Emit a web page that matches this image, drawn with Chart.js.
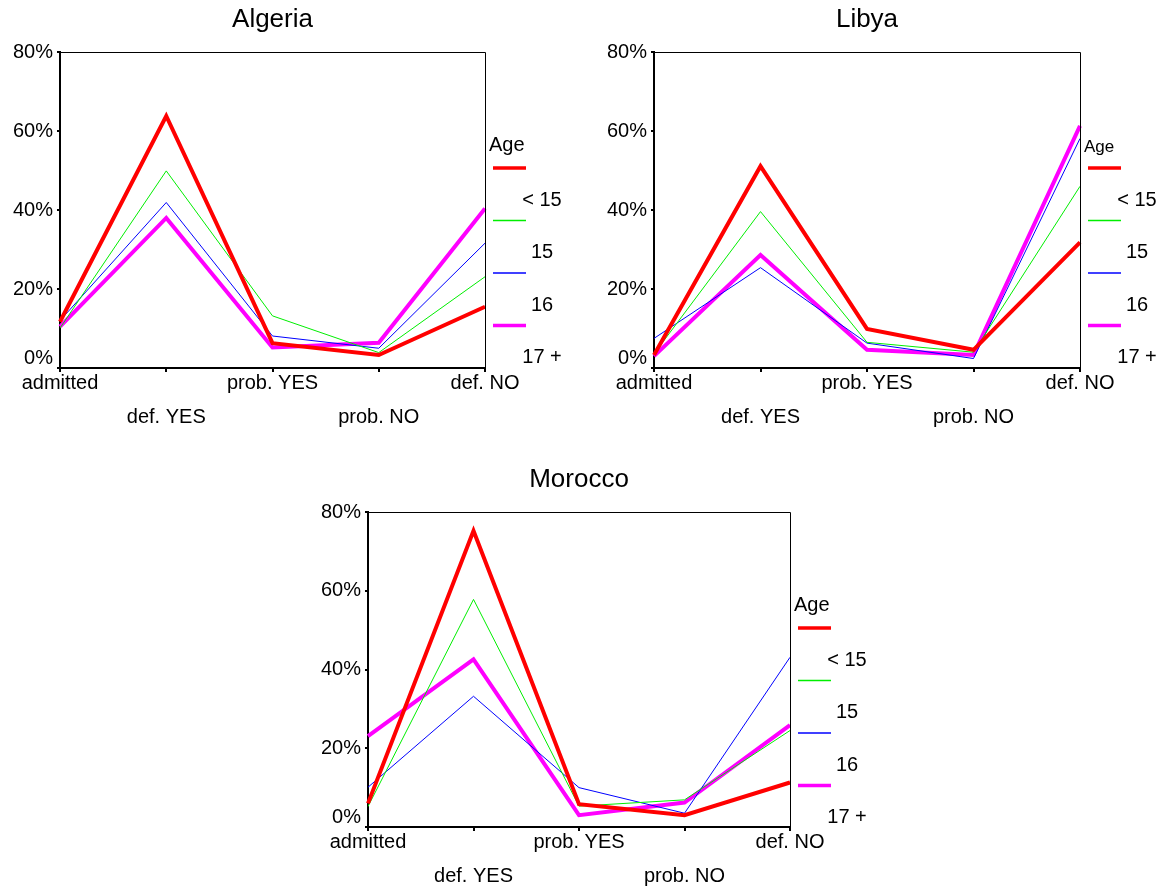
<!DOCTYPE html>
<html>
<head>
<meta charset="utf-8">
<title>Age by answer</title>
<script src="https://cdn.jsdelivr.net/npm/chart.js@4.4.1/dist/chart.umd.min.js"></script>
<style>
  body { margin: 0; background: #fff; width: 1164px; height: 888px; position: relative; overflow: hidden; }
  canvas { position: absolute; }
</style>
</head>
<body>
<canvas id="algeria" width="580" height="440" style="left:0px;top:0px"></canvas>
<canvas id="libya" width="570" height="440" style="left:594px;top:0px"></canvas>
<canvas id="morocco" width="580" height="428" style="left:308px;top:460px"></canvas>
<script>
const FONT = '"Liberation Sans", Arial, sans-serif';

const categories = ['admitted', 'def. YES', 'prob. YES', 'prob. NO', 'def. NO'];
const ageGroups = ['< 15', '15', '16', '17 +'];
const yTicks = [0, 20, 40, 60, 80];

// percent of each age group giving each answer
const algeriaUnder15 = [11.7, 63.8, 6.3, 3.3, 15.5];
const algeria15 = [10.1, 49.9, 13.2, 3.9, 23.1];
const algeria16 = [12.0, 41.9, 8.1, 5.0, 31.6];
const algeria17 = [10.5, 38.0, 5.2, 6.4, 40.4];

const libyaUnder15 = [3.3, 51.1, 9.9, 4.6, 31.8];
const libya15 = [3.6, 39.6, 6.5, 4.0, 46.0];
const libya16 = [7.5, 25.4, 6.3, 2.4, 58.1];
const libya17 = [3.0, 28.6, 4.6, 3.3, 61.3];

const moroccoUnder15 = [6.0, 75.2, 5.8, 3.0, 11.3];
const morocco15 = [5.2, 57.8, 5.3, 6.9, 24.5];
const morocco16 = [10.1, 33.2, 10.0, 3.5, 43.1];
const morocco17 = [23.1, 42.6, 3.0, 6.2, 25.9];

const COLORS = ['#ff0000', '#00ee00', '#0000ff', '#ff00ff'];
const WIDTHS = [4, 1, 1, 4];

Chart.defaults.font.family = FONT;
Chart.defaults.color = '#000';

// frame, title and the "Age" legend
const frameLegend = {
    id: 'frameLegend',
    afterDraw(chart, args, opts) {
        const ctx = chart.ctx;
        const a = chart.chartArea;
        ctx.save();
        ctx.strokeStyle = '#000';
        ctx.lineWidth = 1;
        ctx.beginPath();
        ctx.moveTo(a.left, a.top + 0.5);
        ctx.lineTo(a.right + 0.5, a.top + 0.5);
        ctx.lineTo(a.right + 0.5, a.bottom);
        ctx.stroke();

        ctx.fillStyle = '#000';
        ctx.textBaseline = 'middle';
        ctx.textAlign = 'center';
        ctx.font = '26px ' + FONT;
        ctx.fillText(opts.title, (a.left + a.right) / 2, a.top - 32);

        ctx.textAlign = 'left';
        ctx.font = opts.ageSize + 'px ' + FONT;
        ctx.fillText('Age', a.right + 4, a.top + opts.ageOffset);

        chart.data.datasets.forEach((ds, i) => {
            const sy = a.top + 116 + i * 52.5;
            ctx.strokeStyle = ds.borderColor;
            ctx.lineWidth = ds.borderWidth > 2 ? 3.5 : 1.5;
            ctx.beginPath();
            ctx.moveTo(a.right + 8, sy);
            ctx.lineTo(a.right + 41, sy);
            ctx.stroke();
            ctx.textAlign = 'center';
            ctx.font = '20px ' + FONT;
            ctx.fillText(ds.label, a.right + 57, sy + 32);
        });
        ctx.restore();
    }
};

function makeChart(id, title, series, rightPad, xHeight, ageSize, ageOffset) {
    const ctx = document.getElementById(id).getContext('2d');
    return new Chart(ctx, {
        type: 'line',
        data: {
            labels: categories,
            datasets: series.map((values, i) => ({
                label: ageGroups[i],
                data: values,
                borderColor: COLORS[i],
                borderWidth: WIDTHS[i],
                pointRadius: 0,
                tension: 0,
                fill: false
            }))
        },
        options: {
            responsive: false,
            animation: false,
            layout: { padding: { top: 52, left: 0, right: rightPad, bottom: 0 } },
            plugins: {
                legend: { display: false },
                tooltip: { enabled: false },
                frameLegend: { title: title, ageSize: ageSize, ageOffset: ageOffset }
            },
            scales: {
                x: {
                    type: 'category',
                    offset: false,
                    afterFit: scale => { scale.height = xHeight; },
                    grid: { drawOnChartArea: false, drawTicks: true, tickLength: 4, color: '#000', lineWidth: 2 },
                    border: { display: true, color: '#000', width: 2 },
                    ticks: {
                        autoSkip: false,
                        maxRotation: 0,
                        minRotation: 0,
                        padding: -6,
                        color: '#000',
                        font: { size: 20, lineHeight: '34px' },
                        callback: function (value, index) {
                            const label = this.getLabelForValue(value);
                            return index % 2 ? ['', label] : label;
                        }
                    }
                },
                y: {
                    min: yTicks[0],
                    max: yTicks[yTicks.length - 1],
                    afterFit: scale => { scale.width = 60; },
                    grid: { drawOnChartArea: false, drawTicks: true, tickLength: 3, color: '#000', lineWidth: 2 },
                    border: { display: true, color: '#000', width: 2 },
                    ticks: {
                        stepSize: 20,
                        padding: 4,
                        color: '#000',
                        font: { size: 20, lineHeight: 1 },
                        callback: v => v === 0 ? ['0%', ''] : v + '%'
                    }
                }
            }
        },
        plugins: [frameLegend]
    });
}

makeChart('algeria', 'Algeria', [algeriaUnder15, algeria15, algeria16, algeria17], 95, 72, 20, 93);
makeChart('libya', 'Libya', [libyaUnder15, libya15, libya16, libya17], 84, 72, 17, 95);
makeChart('morocco', 'Morocco', [moroccoUnder15, morocco15, morocco16, morocco17], 98, 61, 20, 93);
</script>
</body>
</html>
